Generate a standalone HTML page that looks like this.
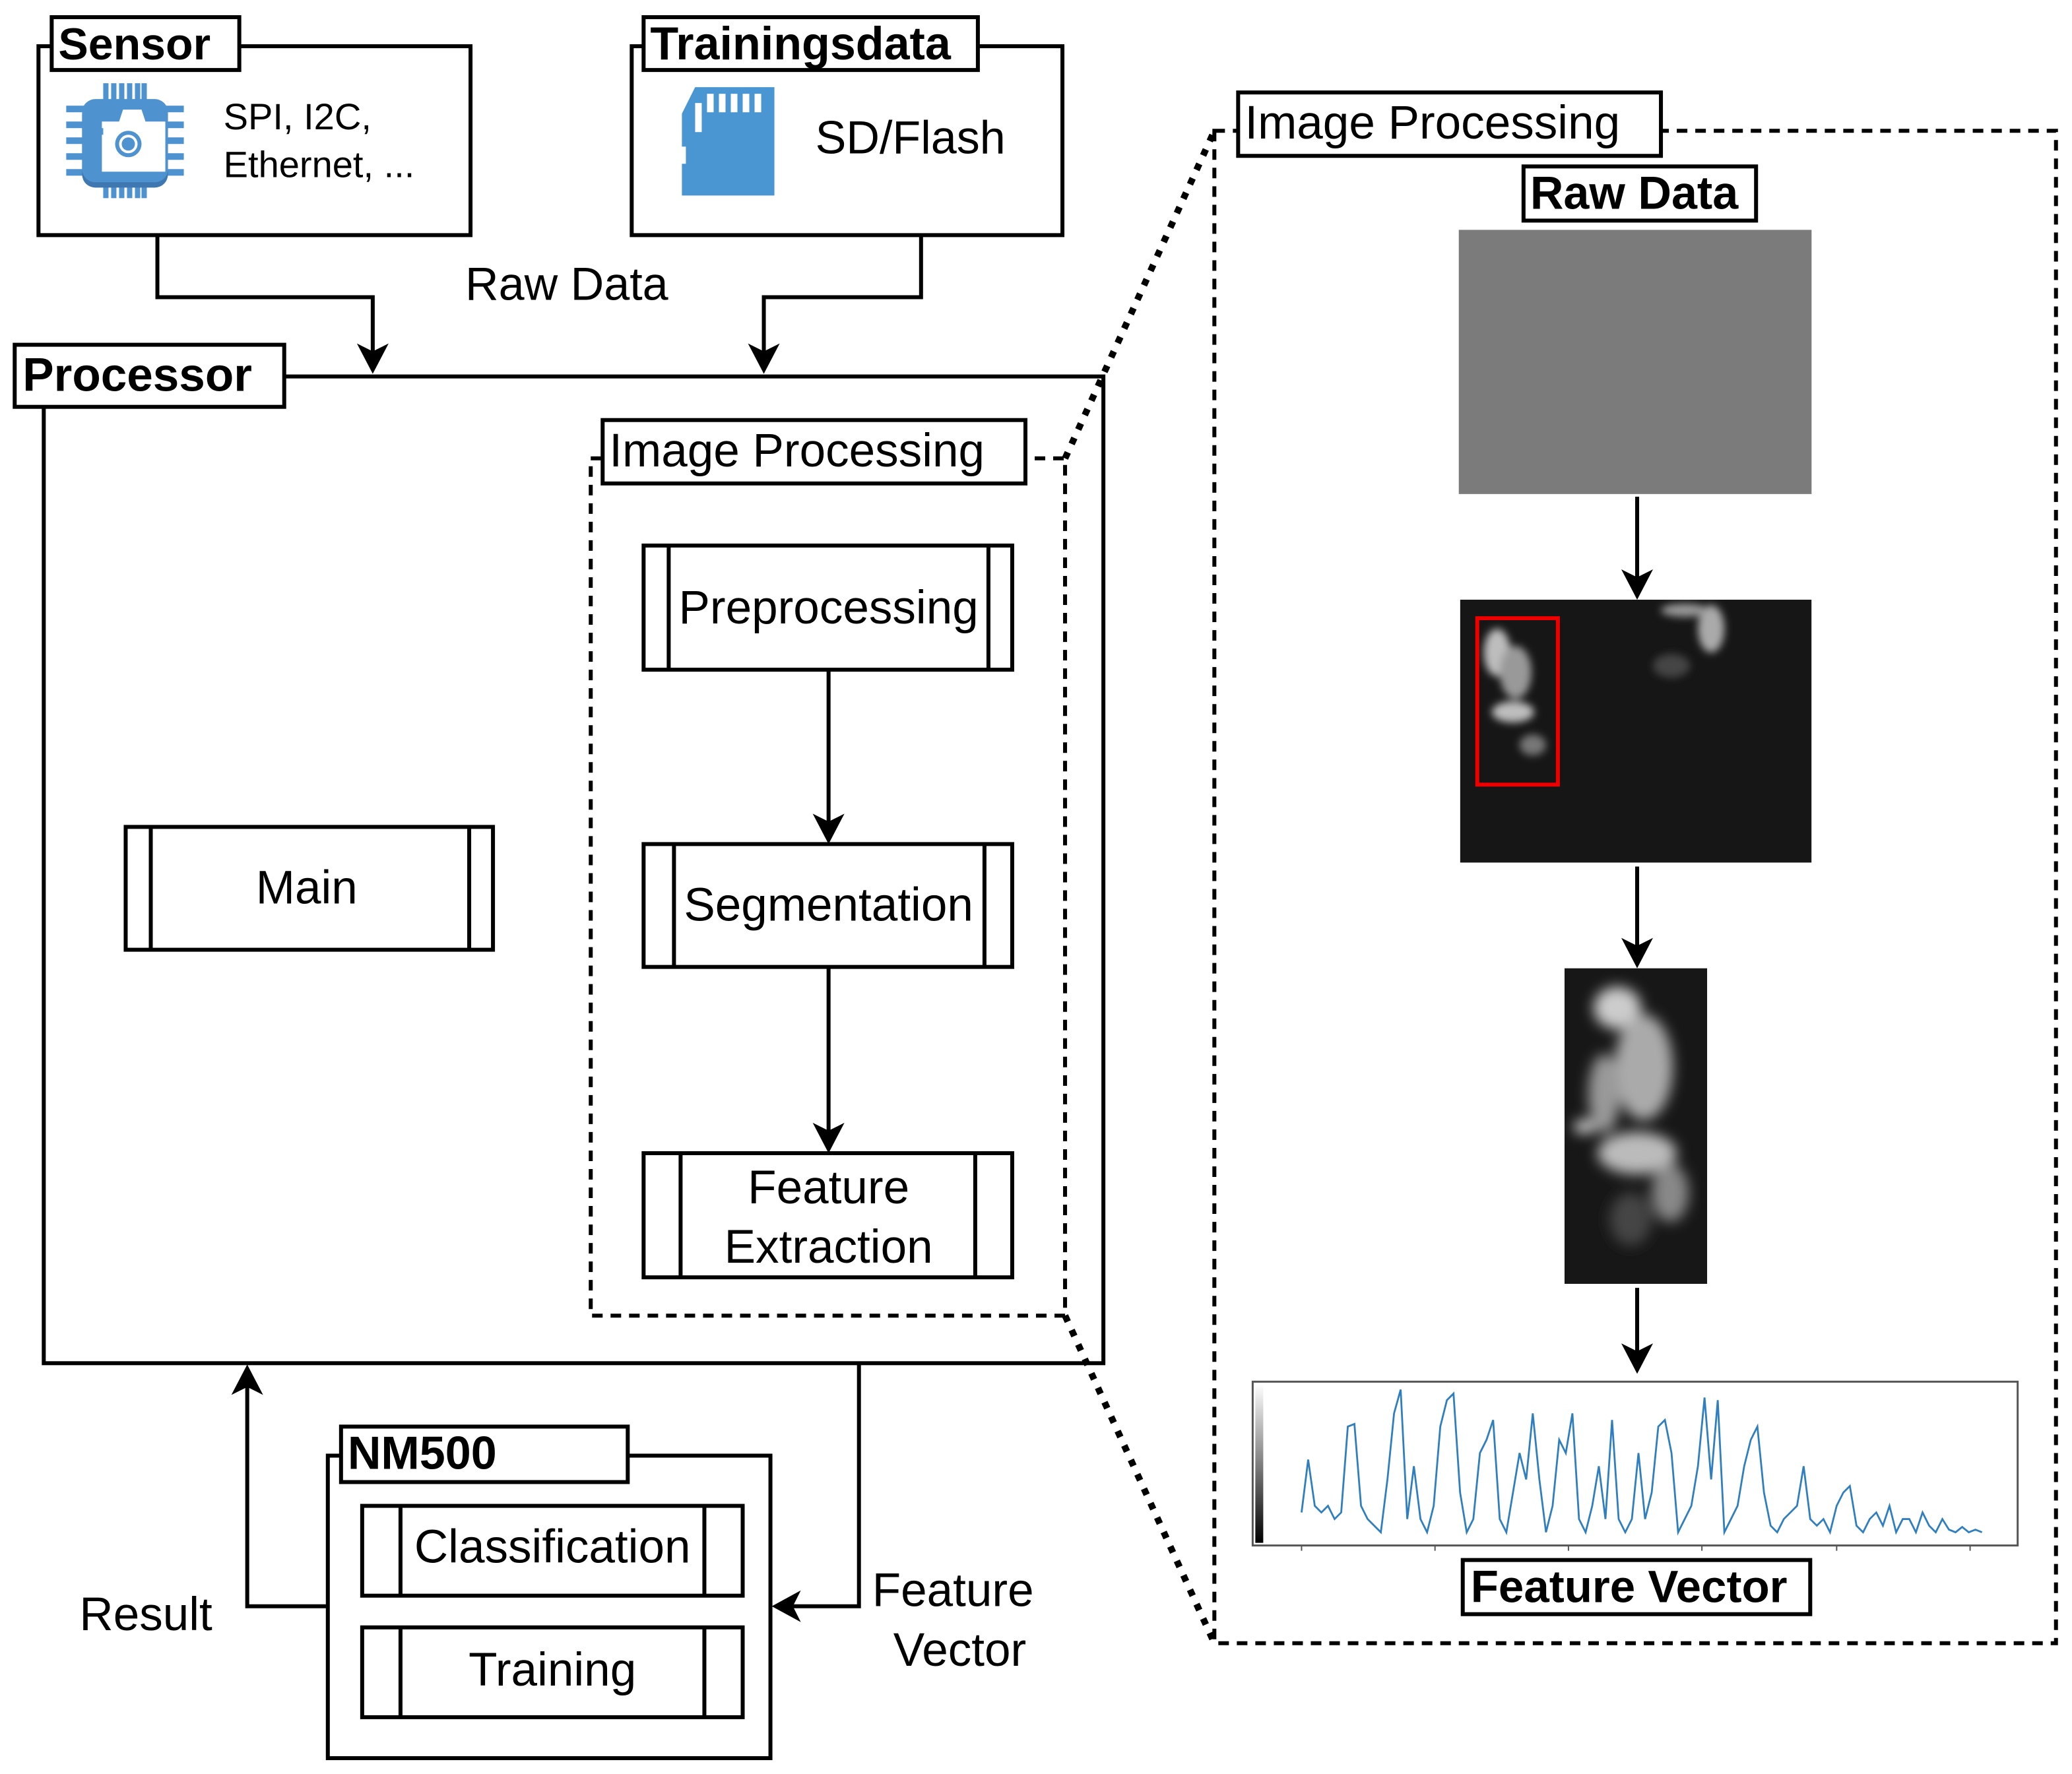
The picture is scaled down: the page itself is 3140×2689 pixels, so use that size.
<!DOCTYPE html>
<html><head><meta charset="utf-8"><style>html,body{margin:0;padding:0;background:#fff}svg{display:block}</style></head>
<body>
<svg xmlns="http://www.w3.org/2000/svg" width="3140" height="2689" viewBox="0 0 1568 1343" font-family="Liberation Sans, Arial, sans-serif">
<defs>
<filter id="bl"><feGaussianBlur stdDeviation="3"/></filter>
<filter id="bl2"><feGaussianBlur stdDeviation="5"/></filter>
</defs>
<g fill="none" stroke="#000" stroke-width="3">
<rect x="29" y="35" width="327" height="143" fill="#fff"/>
<rect x="39" y="13" width="142" height="40" fill="#fff"/>
<rect x="478" y="35" width="326" height="143" fill="#fff"/>
<rect x="487" y="13" width="253" height="40" fill="#fff"/>
<polyline points="119,178 119,225 282,225 282,270"/>
<polyline points="697,178 697,225 578,225 578,270"/>
<rect x="33" y="285" width="802" height="747"/>
<rect x="11" y="261" width="204" height="47" fill="#fff"/>
<rect x="95" y="626" width="278" height="93"/>
<line x1="114" y1="626" x2="114" y2="719"/><line x1="355" y1="626" x2="355" y2="719"/>
<rect x="447" y="347" width="359" height="649" stroke-dasharray="8,6"/>
<rect x="456" y="318" width="320" height="48" fill="#fff"/>
<rect x="487" y="413" width="279" height="94"/><line x1="506" y1="413" x2="506" y2="507"/><line x1="748" y1="413" x2="748" y2="507"/>
<rect x="487" y="639" width="279" height="93"/><line x1="510" y1="639" x2="510" y2="732"/><line x1="745" y1="639" x2="745" y2="732"/>
<rect x="487" y="873" width="279" height="94"/><line x1="515" y1="873" x2="515" y2="967"/><line x1="738" y1="873" x2="738" y2="967"/>
<line x1="627" y1="507" x2="627" y2="625"/>
<line x1="627" y1="732" x2="627" y2="860"/>
<rect x="248" y="1102" width="335" height="229"/>
<rect x="258" y="1080" width="217" height="42" fill="#fff"/>
<rect x="274" y="1140" width="288" height="68"/><line x1="303" y1="1140" x2="303" y2="1208"/><line x1="533" y1="1140" x2="533" y2="1208"/>
<rect x="274" y="1232" width="288" height="68"/><line x1="303" y1="1232" x2="303" y2="1300"/><line x1="533" y1="1232" x2="533" y2="1300"/>
<polyline points="248,1216 187,1216 187,1046"/>
<polyline points="650,1032 650,1216 597,1216"/>
<rect x="919" y="99" width="637" height="1145" stroke-dasharray="8,6"/>
<rect x="937" y="70" width="320" height="48" fill="#fff"/>
<rect x="1153" y="126" width="176" height="41" fill="#fff"/>
<rect x="1107" y="1181" width="263" height="41" fill="#fff"/>
<line x1="1239" y1="376" x2="1239" y2="442"/>
<line x1="1239" y1="656" x2="1239" y2="720"/>
<line x1="1239" y1="975" x2="1239" y2="1028"/>
</g>
<g fill="#000">
<path d="M270,260 L282,283 L294,260 L282,266 Z"/>
<path d="M566,260 L578,283 L590,260 L578,266 Z"/>
<path d="M615,616 L627,639 L639,616 L627,622 Z"/>
<path d="M615,850 L627,873 L639,850 L627,856 Z"/>
<path d="M175,1056 L187,1033 L199,1056 L187,1050 Z"/>
<path d="M606,1204 L584,1216 L606,1228 L600,1216 Z"/>
<path d="M1227,431 L1239,454 L1251,431 L1239,437 Z"/>
<path d="M1227,710 L1239,733 L1251,710 L1239,716 Z"/>
<path d="M1227,1017 L1239,1040 L1251,1017 L1239,1023 Z"/>
</g>
<g stroke="#000" stroke-width="5" stroke-dasharray="5,7" fill="none">
<line x1="806" y1="347" x2="919" y2="99"/>
<line x1="806" y1="996" x2="919" y2="1244"/>
</g>
<g fill="#000">
<text x="44" y="45" font-size="34" font-weight="bold">Sensor</text>
<text x="492" y="45" font-size="35" font-weight="bold">Trainingsdata</text>
<text x="169" y="98" font-size="28">SPI, I2C,</text>
<text x="169" y="134" font-size="28">Ethernet, ...</text>
<text x="617" y="116" font-size="35">SD/Flash</text>
<text x="352" y="227" font-size="35">Raw Data</text>
<text x="17" y="296" font-size="35.5" font-weight="bold">Processor</text>
<text x="232" y="684" font-size="35.5" text-anchor="middle">Main</text>
<text x="461" y="353" font-size="35.5">Image Processing</text>
<text x="627" y="472" font-size="35.5" text-anchor="middle">Preprocessing</text>
<text x="627" y="697" font-size="35.5" text-anchor="middle">Segmentation</text>
<text x="627" y="911" font-size="35.5" text-anchor="middle">Feature</text>
<text x="627" y="956" font-size="35.5" text-anchor="middle">Extraction</text>
<text x="263" y="1112" font-size="35" font-weight="bold">NM500</text>
<text x="418" y="1183" font-size="35.5" text-anchor="middle">Classification</text>
<text x="418" y="1276" font-size="35.5" text-anchor="middle">Training</text>
<text x="60" y="1234" font-size="35.5">Result</text>
<text x="660" y="1216" font-size="35.5">Feature</text>
<text x="676" y="1261" font-size="35.5">Vector</text>
<text x="942" y="105" font-size="35.5">Image Processing</text>
<text x="1158" y="158" font-size="35" font-weight="bold">Raw Data</text>
<text x="1113" y="1213" font-size="34.5" font-weight="bold">Feature Vector</text>
</g>
<g fill="#4f92d0">
<rect x="78" y="63" width="4" height="14"/><rect x="84" y="63" width="4" height="14"/><rect x="90" y="63" width="4" height="14"/><rect x="96" y="63" width="4" height="14"/><rect x="102" y="63" width="4" height="14"/><rect x="107" y="63" width="4" height="14"/>
<rect x="78" y="136" width="4" height="14"/><rect x="84" y="136" width="4" height="14"/><rect x="90" y="136" width="4" height="14"/><rect x="96" y="136" width="4" height="14"/><rect x="102" y="136" width="4" height="14"/><rect x="107" y="136" width="4" height="14"/>
<rect x="50" y="80" width="14" height="5"/><rect x="50" y="92" width="14" height="5"/><rect x="50" y="104" width="14" height="5"/><rect x="50" y="116" width="14" height="5"/><rect x="50" y="128" width="14" height="5"/>
<rect x="125" y="80" width="14" height="5"/><rect x="125" y="92" width="14" height="5"/><rect x="125" y="104" width="14" height="5"/><rect x="125" y="116" width="14" height="5"/><rect x="125" y="128" width="14" height="5"/>
<rect x="62" y="77" width="65" height="65" rx="10" fill="#3f78b0"/>
<rect x="62" y="75" width="65" height="63" rx="10"/>
</g>
<g fill="#fff"><path d="M77,92 h48 v38 h-48z M90,92 l3,-9 h14 l3,9z"/></g>
<circle cx="97" cy="109" r="10" fill="#4f92d0"/><circle cx="97" cy="109" r="7" fill="#fff"/><circle cx="97" cy="109" r="5" fill="#4f92d0"/>
<rect x="72" y="97" width="6" height="5" fill="#4f92d0"/>
<path d="M526,66 L586,66 L586,148 L516,148 L516,124 L519,124 L519,111 L516,111 L516,86 Z" fill="#4a96d2"/>
<g fill="#fff"><rect x="526" y="78" width="5" height="22"/><rect x="535" y="71" width="5" height="14"/><rect x="544" y="71" width="5" height="14"/><rect x="553" y="71" width="5" height="14"/><rect x="562" y="71" width="5" height="14"/><rect x="571" y="71" width="5" height="14"/></g>
<rect x="1104" y="174" width="267" height="200" fill="#7b7b7b"/>
<svg x="1105" y="454" width="266" height="199" viewBox="0 0 266 199">
<rect width="266" height="199" fill="#161616"/>
<g filter="url(#bl)" fill="#bdbdbd">
<ellipse cx="28" cy="40" rx="10" ry="18"/><ellipse cx="42" cy="55" rx="12" ry="20" fill="#999"/><ellipse cx="40" cy="85" rx="16" ry="8"/><ellipse cx="55" cy="110" rx="10" ry="8" fill="#777"/>
<ellipse cx="190" cy="22" rx="10" ry="18" fill="#aaa"/><ellipse cx="170" cy="8" rx="18" ry="5" fill="#999"/>
<ellipse cx="160" cy="50" rx="14" ry="9" fill="#444"/>
</g>
<rect x="13" y="14" width="61" height="126" fill="none" stroke="#e00" stroke-width="3"/>
</svg>
<svg x="1184" y="733" width="108" height="239" viewBox="0 0 108 239">
<rect width="108" height="239" fill="#171717"/>
<g filter="url(#bl2)">
<ellipse cx="40" cy="30" rx="18" ry="16" fill="#ccc"/>
<ellipse cx="60" cy="75" rx="22" ry="40" fill="#aaa"/>
<ellipse cx="30" cy="95" rx="12" ry="30" fill="#999"/>
<ellipse cx="55" cy="140" rx="30" ry="16" fill="#bbb"/>
<ellipse cx="80" cy="170" rx="14" ry="22" fill="#888"/>
<ellipse cx="50" cy="190" rx="16" ry="20" fill="#444"/>
<ellipse cx="15" cy="120" rx="8" ry="5" fill="#ddd"/>
</g>
</svg>
<rect x="948" y="1046" width="579" height="124" fill="#fff" stroke="#555" stroke-width="1.5"/>
<defs><linearGradient id="gb" x1="0" y1="0" x2="0" y2="1"><stop offset="0" stop-color="#fff"/><stop offset="1" stop-color="#000"/></linearGradient></defs>
<rect x="950" y="1048" width="6" height="120" fill="url(#gb)"/>
<g stroke="#555" stroke-width="1"><line x1="985" y1="1170" x2="985" y2="1174"/><line x1="1086" y1="1170" x2="1086" y2="1174"/><line x1="1187" y1="1170" x2="1187" y2="1174"/><line x1="1288" y1="1170" x2="1288" y2="1174"/><line x1="1390" y1="1170" x2="1390" y2="1174"/><line x1="1491" y1="1170" x2="1491" y2="1174"/></g>
<polyline fill="none" stroke="#2f7fc0" stroke-width="1.4" points="985,1145 990,1105 995,1140 1000,1145 1005,1140 1010,1150 1015,1145 1020,1080 1025,1078 1030,1140 1035,1150 1040,1155 1045,1160 1050,1120 1055,1070 1060,1052 1065,1150 1070,1110 1075,1150 1080,1160 1085,1140 1090,1080 1095,1060 1100,1055 1105,1130 1110,1160 1115,1150 1120,1100 1125,1090 1130,1075 1135,1150 1140,1160 1145,1130 1150,1100 1155,1120 1160,1070 1165,1120 1170,1160 1175,1140 1180,1090 1185,1100 1190,1070 1195,1150 1200,1160 1205,1140 1210,1110 1215,1150 1220,1075 1225,1150 1230,1160 1235,1150 1240,1100 1245,1150 1250,1130 1255,1080 1260,1075 1265,1100 1270,1160 1275,1150 1280,1140 1285,1110 1290,1058 1295,1120 1300,1060 1305,1160 1310,1150 1315,1140 1320,1110 1325,1090 1330,1080 1335,1130 1340,1155 1345,1160 1350,1150 1355,1145 1360,1140 1365,1110 1370,1150 1375,1155 1380,1150 1385,1160 1390,1140 1395,1130 1400,1125 1405,1155 1410,1160 1415,1150 1420,1145 1425,1155 1430,1140 1435,1160 1440,1150 1445,1150 1450,1160 1455,1145 1460,1155 1465,1160 1470,1150 1475,1158 1480,1160 1485,1156 1490,1160 1495,1158 1500,1160"/>
</svg>
</body></html>
